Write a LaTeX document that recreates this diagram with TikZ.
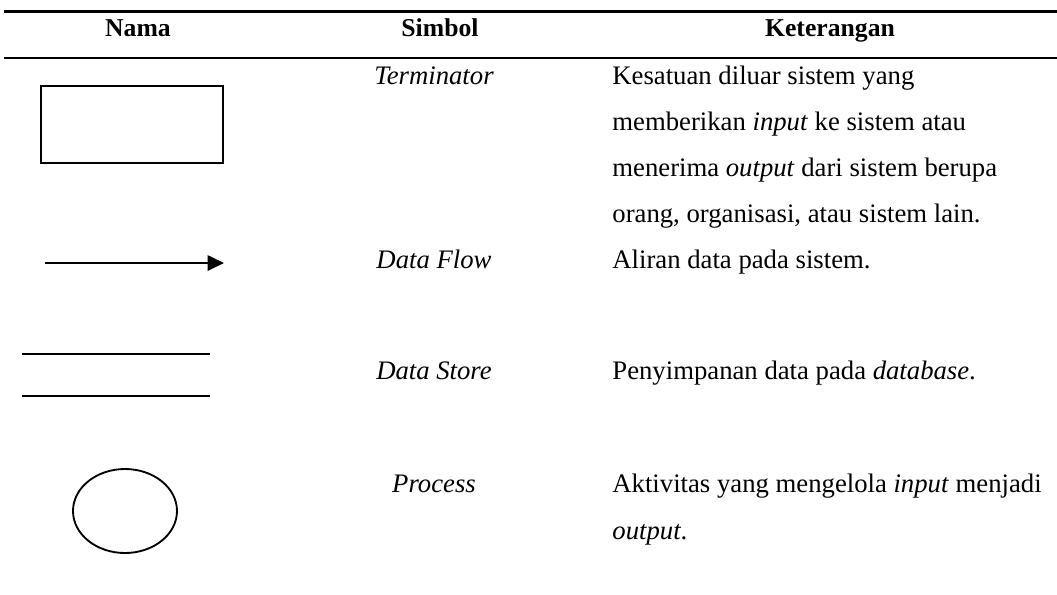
\documentclass[tikz,border=0pt]{standalone}
\usepackage{fontspec}
\setmainfont{Liberation Serif}
\usetikzlibrary{arrows.meta}

\newcommand{\ukuranteks}{\fontsize{13}{15}\selectfont}

\tikzset{
  judul/.style={font=\fontsize{12.5}{15}\selectfont\bfseries, anchor=base, inner sep=0pt},
  simbol/.style={font=\ukuranteks\itshape, anchor=base, inner sep=0pt},
  ket/.style={font=\ukuranteks, anchor=base west, inner sep=0pt},
  garistabel/.style={line width=1.3pt},
}

\begin{document}
\begin{tikzpicture}[x=0.0171cm,y=-0.0171cm]
  \useasboundingbox (0,0) rectangle (1057,594);

  % garis kepala tabel
  \draw[garistabel] (4,11.5) -- (1057,11.5);
  \draw[garistabel] (4,58) -- (1057,58);
  \node[judul] (nama) at (138,36) {Nama};
  \node[judul] (simbol) at (440,36) {Simbol};
  \node[judul] (keterangan) at (830,36) {Keterangan};

  % terminator
  \draw[line width=1pt] (41,86) rectangle (223,163);
  \node[simbol] (terminator) at (434,84) {Terminator};
  \node[ket] (ket1) at (612,84) {Kesatuan diluar sistem yang};
  \node[ket] (ket2) at (612,130) {memberikan \textit{input} ke sistem atau};
  \node[ket] (ket3) at (612,176) {menerima \textit{output} dari sistem berupa};
  \node[ket] (ket4) at (612,222) {orang, organisasi, atau sistem lain.};

  % data flow
  \coordinate (flowa) at (45,263);
  \coordinate (flowb) at (224,263);
  \draw[line width=0.9pt,-{Triangle[length=8pt,width=7.5pt]}] (flowa) -- (flowb);
  \node[simbol] (dataflow) at (434,268) {Data Flow};
  \node[ket] (ket5) at (612,268) {Aliran data pada sistem.};

  % data store
  \draw[line width=0.6pt] (22,354) -- (210,354);
  \draw[line width=0.6pt] (22,396) -- (210,396);
  \node[simbol] (datastore) at (434,379) {Data Store};
  \node[ket] (ket6) at (612,379) {Penyimpanan data pada \textit{database}.};

  % process
  \draw[line width=0.9pt] (125,511) ellipse (52 and 42);
  \node[simbol] (process) at (434,492) {Process};
  \node[ket] (ket7) at (612,492) {Aktivitas yang mengelola \textit{input} menjadi};
  \node[ket] (ket8) at (612,539) {\textit{output}.};
\end{tikzpicture}
\end{document}
